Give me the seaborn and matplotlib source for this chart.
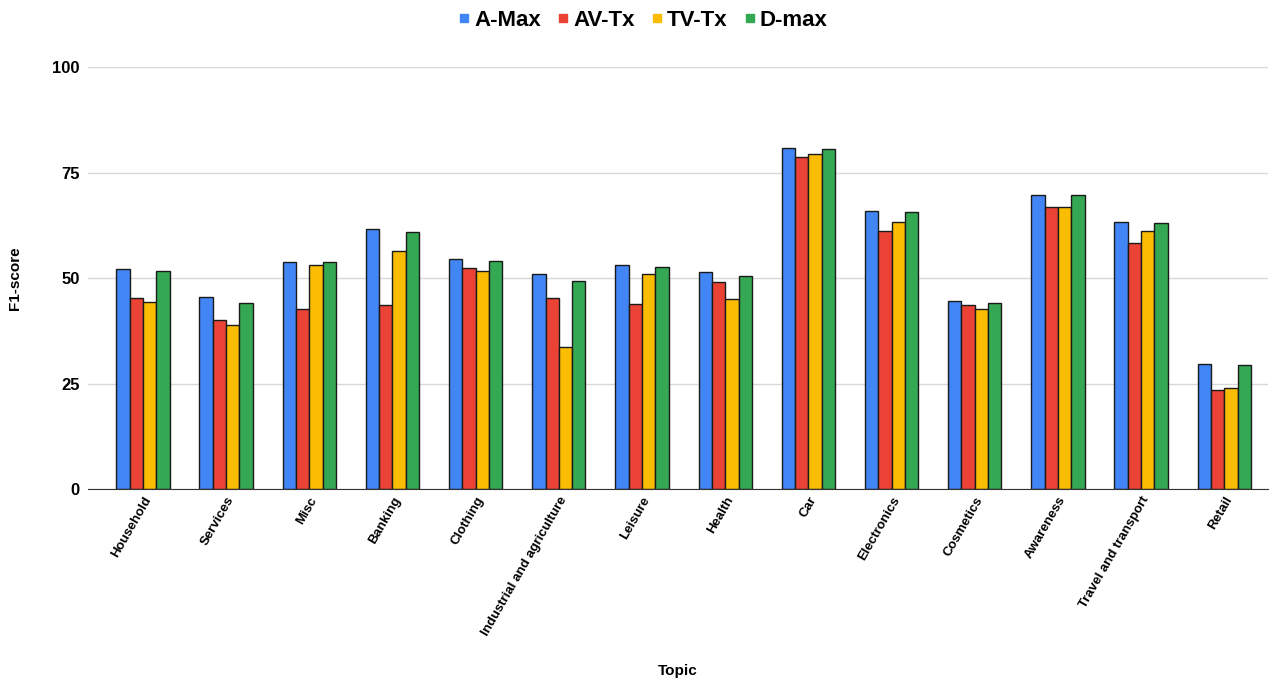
import matplotlib

matplotlib.use("Agg")
import matplotlib.pyplot as plt
import pandas as pd
import seaborn as sns
from matplotlib.lines import Line2D

topics = [
    "Household", "Services", "Misc", "Banking", "Clothing",
    "Industrial and agriculture", "Leisure", "Health", "Car", "Electronics",
    "Cosmetics", "Awareness", "Travel and transport", "Retail",
]
a_max = [52.2, 45.6, 53.8, 61.7, 54.5, 50.9, 53.2, 51.4, 80.9, 65.9, 44.5, 69.7, 63.3, 29.7]
av_tx = [45.4, 40.1, 42.6, 43.7, 52.4, 45.4, 43.8, 49.1, 78.7, 61.1, 43.6, 66.8, 58.4, 23.6]
tv_tx = [44.4, 38.9, 53.0, 56.5, 51.6, 33.7, 50.9, 45.0, 79.3, 63.3, 42.7, 66.8, 61.1, 23.9]
d_max = [51.7, 44.1, 53.8, 60.9, 54.1, 49.4, 52.6, 50.6, 80.5, 65.7, 44.1, 69.7, 63.1, 29.5]

series = ["A-Max", "AV-Tx", "TV-Tx", "D-max"]
colors = ["#4285F4", "#EA4335", "#FBBC04", "#34A853"]

rows = []
for name, vals in zip(series, [a_max, av_tx, tv_tx, d_max]):
    for t, v in zip(topics, vals):
        rows.append({"Topic": t, "Model": name, "F1": v})
df = pd.DataFrame(rows)

sns.set_style("white")
plt.rcParams["font.family"] = ["Liberation Sans", "DejaVu Sans"]
plt.rcParams["font.weight"] = "bold"
plt.rcParams["text.color"] = "black"
plt.rcParams["axes.labelcolor"] = "black"
plt.rcParams["xtick.color"] = "black"
plt.rcParams["ytick.color"] = "black"

fig = plt.figure(figsize=(12.83, 6.85), dpi=100)
ax = fig.add_axes([0.0686, 0.286, 0.92, 0.616])

sns.barplot(
    data=df, x="Topic", y="F1", hue="Model", order=topics, hue_order=series,
    palette=colors, saturation=1, width=0.64, edgecolor="#1a1a1a", linewidth=1.0,
    legend=False, ax=ax,
)

ax.set_ylim(0, 100)
ax.set_yticks([0, 25, 50, 75, 100])
ax.set_xlim(-0.66, len(topics) - 0.47)
ax.yaxis.grid(True, color="#d9d9d9", linewidth=1)
ax.set_axisbelow(True)
for s in ["top", "right", "left"]:
    ax.spines[s].set_visible(False)
ax.spines["bottom"].set_color("#333333")
ax.tick_params(axis="y", length=0, pad=6, labelsize=12)
ax.tick_params(axis="x", length=0, pad=4, labelsize=9.5)
plt.setp(ax.get_xticklabels(), rotation=60, ha="right", rotation_mode="anchor", fontweight="bold")
plt.setp(ax.get_yticklabels(), fontweight="bold")
ax.set_xlabel("Topic", fontsize=11, fontweight="bold")
ax.xaxis.set_label_coords(0.5, -0.415)
ax.set_ylabel("F1-score", fontsize=11, fontweight="bold")
ax.yaxis.set_label_coords(-0.056, 0.5)

handles = [
    Line2D([], [], marker="s", linestyle="", markersize=6, color=c, label=n)
    for n, c in zip(series, colors)
]
fig.legend(
    handles=handles, loc="upper center", bbox_to_anchor=(0.5, 1.015), ncol=4,
    frameon=False, prop={"size": 16, "weight": "bold"}, handletextpad=0.05,
    columnspacing=0.6, handlelength=0.8,
)

fig.savefig("out.png", dpi=100)
plt.close(fig)
